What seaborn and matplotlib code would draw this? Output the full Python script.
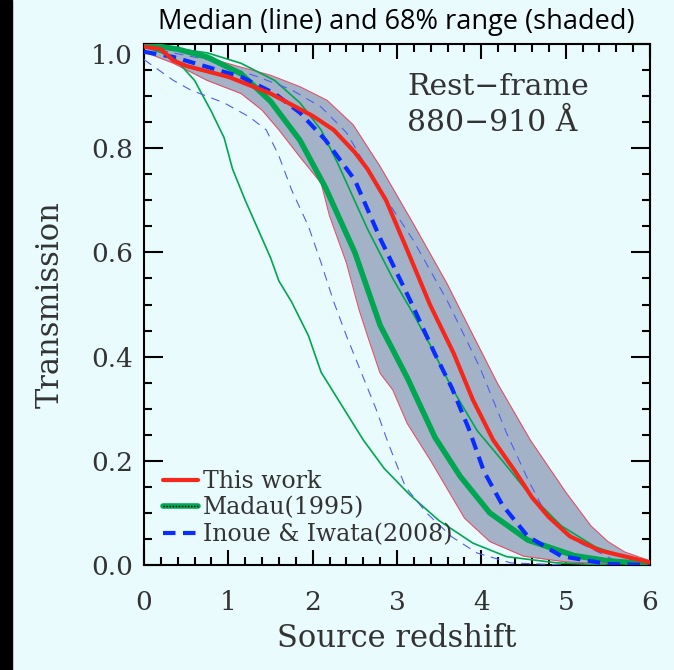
import numpy as np
import pandas as pd
import seaborn as sns
import matplotlib.pyplot as plt
from matplotlib.lines import Line2D
from matplotlib.patches import Rectangle
from matplotlib.ticker import MultipleLocator
from matplotlib.legend_handler import HandlerTuple

# ---- data (redshift, transmission) ----
# This work: median and 68% band
z_red = [0.0, 0.2, 0.35, 0.5, 1.0, 1.5, 2.0, 2.25, 2.5, 2.65, 2.87, 3.12, 3.39, 3.67, 3.9, 4.14, 4.4, 4.6, 4.8, 5.05, 5.4, 6.0]
t_red = [0.995, 0.99, 0.968, 0.958, 0.937, 0.905, 0.862, 0.835, 0.792, 0.76, 0.70, 0.605, 0.50, 0.407, 0.317, 0.24, 0.18, 0.13, 0.092, 0.055, 0.028, 0.005]

z_band_hi = [0.0, 0.5, 1.14, 1.5, 1.85, 2.17, 2.48, 2.8, 3.19, 3.59, 3.87, 4.19, 4.58, 5.0, 5.3, 5.5, 5.7, 6.0]
t_band_hi = [1.0, 0.985, 0.956, 0.94, 0.918, 0.892, 0.845, 0.765, 0.656, 0.541, 0.451, 0.349, 0.24, 0.14, 0.075, 0.045, 0.025, 0.008]

z_band_lo = [0.0, 0.35, 0.75, 1.15, 1.4, 1.6, 1.85, 2.1, 2.2, 2.4, 2.55, 2.65, 2.8, 2.95, 3.12, 3.4, 3.6, 3.8, 4.1, 4.5, 5.0, 5.5, 6.0]
t_band_lo = [0.985, 0.963, 0.93, 0.905, 0.873, 0.835, 0.783, 0.733, 0.67, 0.58, 0.49, 0.44, 0.368, 0.336, 0.272, 0.2, 0.145, 0.09, 0.045, 0.017, 0.006, 0.002, 0.0]

# Madau (1995): median and range
z_mad = [0.0, 0.4, 0.75, 1.15, 1.5, 1.85, 2.15, 2.5, 2.8, 3.12, 3.45, 3.75, 4.1, 4.55, 5.1, 5.5, 6.0]
t_mad = [1.0, 0.99, 0.975, 0.943, 0.89, 0.815, 0.725, 0.6, 0.46, 0.36, 0.245, 0.17, 0.1, 0.048, 0.018, 0.008, 0.002]

z_mad_lo = [0.0, 0.35, 0.6, 0.8, 0.95, 1.05, 1.2, 1.35, 1.5, 1.6, 1.75, 1.95, 2.1, 2.35, 2.6, 2.85, 3.15, 3.5, 3.9, 4.3, 4.9, 5.5]
t_mad_lo = [0.995, 0.975, 0.93, 0.87, 0.82, 0.76, 0.70, 0.645, 0.59, 0.545, 0.505, 0.44, 0.37, 0.305, 0.24, 0.185, 0.135, 0.085, 0.042, 0.016, 0.004, 0.0]

z_mad_hi = [0.0, 0.75, 1.15, 1.55, 1.85, 2.1, 2.3, 2.65, 2.95, 3.2, 3.4, 3.65, 3.95, 4.25, 4.55, 4.95, 5.35, 5.9]
t_mad_hi = [1.0, 0.983, 0.963, 0.93, 0.887, 0.835, 0.77, 0.645, 0.55, 0.48, 0.42, 0.34, 0.258, 0.2, 0.14, 0.075, 0.035, 0.004]

# Inoue & Iwata (2008): median and range
z_ino = [0.0, 0.35, 0.75, 1.15, 1.55, 1.85, 2.15, 2.5, 2.8, 3.15, 3.45, 3.65, 3.85, 4.03, 4.25, 4.55, 4.95, 5.5, 6.0]
t_ino = [0.985, 0.975, 0.956, 0.937, 0.905, 0.868, 0.816, 0.739, 0.627, 0.51, 0.405, 0.34, 0.262, 0.18, 0.115, 0.055, 0.017, 0.002, 0.0]

z_ino_lo = [0.0, 0.35, 0.55, 0.95, 1.25, 1.45, 1.6, 1.75, 1.95, 2.1, 2.25, 2.4, 2.55, 2.75, 2.9, 3.1, 3.35, 3.65, 3.95, 4.35, 5.0]
t_ino_lo = [0.97, 0.93, 0.912, 0.887, 0.86, 0.835, 0.785, 0.72, 0.65, 0.58, 0.505, 0.44, 0.38, 0.3, 0.232, 0.15, 0.1, 0.054, 0.023, 0.004, 0.0]

z_ino_hi = [0.0, 0.75, 1.35, 1.75, 2.1, 2.4, 2.8, 3.19, 3.59, 3.98, 4.3, 4.55, 4.76, 5.17, 5.57, 5.9]
t_ino_hi = [0.994, 0.97, 0.937, 0.912, 0.879, 0.83, 0.72, 0.624, 0.509, 0.38, 0.253, 0.165, 0.1, 0.042, 0.01, 0.002]

legend_labels = ["This work", "Madau(1995)", "Inoue & Iwata(2008)"]

RED = "#f5261a"
GREEN = "#00a651"
BLUE = "#0a2dff"
BLUE_THIN = "#4f5ff0"
SHADE = "#a4b2c8"
EDGE = "#e0506a"
BG = "#e9fbfc"
TXT = "#333333"

sns.set_theme(style="ticks")
plt.rcParams["font.family"] = ["DejaVu Serif"]

fig = plt.figure(figsize=(6.74, 6.70), dpi=100, facecolor=BG)
ax = fig.add_axes([144 / 674, 105 / 670, 506 / 674, 521 / 670])
ax.set_facecolor(BG)

# shaded 68% band (common grid only for the fill)
zz = np.union1d(z_band_hi, z_band_lo)
ax.fill_between(zz, np.interp(zz, z_band_lo, t_band_lo), np.interp(zz, z_band_hi, t_band_hi),
                color=SHADE, lw=0, zorder=1)
sns.lineplot(x=z_band_hi, y=t_band_hi, color=EDGE, lw=0.8, ax=ax, zorder=2)
sns.lineplot(x=z_band_lo, y=t_band_lo, color=EDGE, lw=0.8, ax=ax, zorder=2)

# thin range lines
sns.lineplot(x=z_mad_lo, y=t_mad_lo, color=GREEN, lw=1.2, ax=ax, zorder=3)
sns.lineplot(x=z_mad_hi, y=t_mad_hi, color=GREEN, lw=1.2, ax=ax, zorder=3)
sns.lineplot(x=z_ino_lo, y=t_ino_lo, color=BLUE_THIN, lw=0.8, ls=(0, (8, 6)), ax=ax, zorder=3)
sns.lineplot(x=z_ino_hi, y=t_ino_hi, color=BLUE_THIN, lw=0.8, ls=(0, (8, 6)), ax=ax, zorder=3)

# medians
sns.lineplot(x=z_mad, y=t_mad, color=GREEN, lw=4.0, ax=ax, zorder=4)
sns.lineplot(x=z_ino, y=t_ino, color=BLUE, lw=3.0, ls=(0, (3, 1.8)), ax=ax, zorder=5)
sns.lineplot(x=z_red, y=t_red, color=RED, lw=3.0, ax=ax, zorder=6)

ax.set_xlim(0, 6)
ax.set_ylim(0, 1.0)
ax.xaxis.set_major_locator(MultipleLocator(1))
ax.xaxis.set_minor_locator(MultipleLocator(0.2))
ax.yaxis.set_major_locator(MultipleLocator(0.2))
ax.yaxis.set_minor_locator(MultipleLocator(0.05))
# the 1.0 label is drawn separately, just under the frame as in the original
ax.yaxis.set_major_formatter(plt.FuncFormatter(lambda v, p: "" if v > 0.99 else f"{v:.1f}"))
ax.tick_params(axis="both", which="both", direction="in", top=True, right=True,
               width=1.5, color="black", labelsize=19, labelcolor=TXT)
ax.tick_params(axis="x", which="major", length=11, pad=18)
ax.tick_params(axis="x", which="minor", length=6)
ax.tick_params(axis="y", which="major", length=14, pad=8)
ax.tick_params(axis="y", which="minor", length=6)
for s in ax.spines.values():
    s.set_linewidth(1.5)
    s.set_color("black")
ax.annotate("1.0", xy=(0, 1), xycoords="axes fraction", xytext=(-8, -9), textcoords="offset points",
            ha="right", va="center", fontsize=19, color=TXT)

ax.set_xlabel("Source redshift", fontsize=22, color=TXT, labelpad=6)
ax.set_ylabel("Transmission", fontsize=22, color=TXT, labelpad=18)

ax.text(0.52, 0.945, "Rest\u2212frame\n880\u2212910 \u00c5", transform=ax.transAxes,
        ha="left", va="top", fontsize=21.5, color=TXT, linespacing=1.35)

mad_handle = (Line2D([], [], color=GREEN, lw=4.0),
              Line2D([], [], color="black", lw=1.0, ls=(0, (1, 1.2))))
handles = [Line2D([], [], color=RED, lw=3.0), mad_handle,
           Line2D([], [], color=BLUE, lw=3.0, ls=(0, (3, 1.8)))]
ax.legend(handles=handles, labels=legend_labels, loc="lower left", bbox_to_anchor=(0.0, 0.0),
          frameon=False, fontsize=17, handlelength=1.5, handletextpad=0.2, labelspacing=0.15,
          borderaxespad=0.4, handler_map={tuple: HandlerTuple(ndivide=1)}, labelcolor=TXT)

fig.text(396 / 674, 1 - 22 / 670, "Median (line) and 68% range (shaded)", ha="center", va="center",
         fontsize=19.5, family=["Open Sans", "DejaVu Sans"], color="black")
fig.patches.append(Rectangle((0, 0), 12 / 674, 1, transform=fig.transFigure, color="black", zorder=10))

fig.savefig("out.png", dpi=100, facecolor=BG)
